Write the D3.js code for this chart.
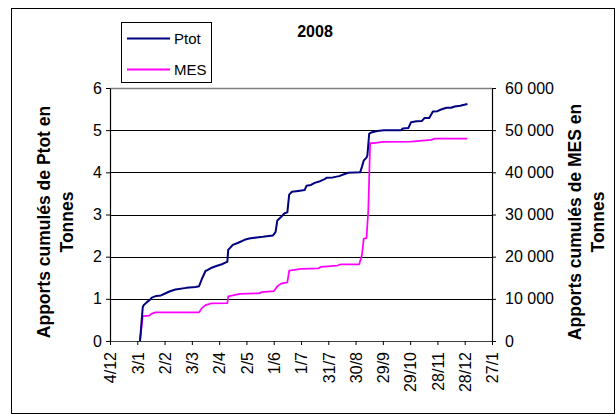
<!DOCTYPE html>
<html><head><meta charset="utf-8">
<script src="https://cdn.jsdelivr.net/npm/d3@7"></script>
<style>
body{margin:0;background:#fff}
svg{display:block}
text{font-family:"Liberation Sans",Arial,sans-serif;fill:#000}
</style>
</head><body>
<svg id="chart" width="616" height="415"></svg>
<script>
// ---------- data ----------
const chartTitle = "2008";
const seriesNames = ["Ptot", "MES"];
const seriesColors = ["#000080", "#FF00FF"];

const ptotDates = ["2008-01-06","2008-01-09","2008-01-10","2008-01-13","2008-01-17","2008-01-19","2008-01-24","2008-01-29",
  "2008-02-02","2008-02-08","2008-02-14","2008-02-26","2008-03-07","2008-03-11","2008-03-14","2008-03-18","2008-03-20",
  "2008-03-24","2008-03-30","2008-04-05","2008-04-10","2008-04-11","2008-04-12","2008-04-17","2008-04-23","2008-04-30",
  "2008-05-05","2008-05-11","2008-05-20","2008-05-31","2008-06-03","2008-06-05","2008-06-09","2008-06-13","2008-06-16",
  "2008-06-18","2008-06-21","2008-06-28","2008-07-05","2008-07-07","2008-07-12","2008-07-16","2008-07-22","2008-07-27",
  "2008-07-29","2008-08-05","2008-08-12","2008-08-18","2008-08-22","2008-09-04","2008-09-06","2008-09-08","2008-09-11",
  "2008-09-12","2008-09-14","2008-09-17","2008-09-23","2008-09-30","2008-10-19","2008-10-21","2008-10-27","2008-10-30",
  "2008-11-05","2008-11-11","2008-11-14","2008-11-19","2008-11-23","2008-11-28","2008-12-02","2008-12-08","2008-12-13",
  "2008-12-17","2008-12-23","2008-12-31"];
const ptotValues = [0,0.80,0.85,0.91,0.98,1.03,1.07,1.08,
  1.12,1.18,1.22,1.26,1.28,1.30,1.47,1.66,1.68,
  1.73,1.78,1.82,1.87,1.88,2.16,2.28,2.33,2.40,
  2.43,2.45,2.47,2.50,2.58,2.86,2.94,3.03,3.05,
  3.47,3.54,3.56,3.58,3.68,3.70,3.75,3.79,3.84,
  3.87,3.88,3.91,3.96,3.99,4.00,4.13,4.28,4.35,
  4.40,4.92,4.95,4.98,5.00,5.00,5.04,5.05,5.19,
  5.21,5.22,5.29,5.29,5.44,5.45,5.49,5.53,5.53,
  5.56,5.58,5.62];

const mesDates = ["2008-01-06","2008-01-09","2008-01-16","2008-01-19","2008-01-23","2008-03-11","2008-03-14","2008-03-18",
  "2008-03-24","2008-04-11","2008-04-12","2008-04-17","2008-04-25","2008-05-16","2008-05-19","2008-06-01","2008-06-05",
  "2008-06-09","2008-06-16","2008-06-18","2008-07-01","2008-07-20","2008-07-23","2008-08-10","2008-08-14","2008-09-03",
  "2008-09-06","2008-09-08","2008-09-11","2008-09-13","2008-09-15","2008-09-19","2008-09-29","2008-10-30","2008-11-21",
  "2008-11-25","2008-12-31"];
const mesValues = [0,5900,6000,6500,6800,6800,7800,8500,
  8900,9000,10600,10800,11200,11300,11600,11800,13000,
  13600,13900,16700,17100,17200,17600,17900,18200,18200,
  20400,24300,24400,31000,46900,46900,47200,47300,47700,
  48000,48000];

const xTickDates = ["2007-12-04","2008-01-03","2008-02-02","2008-03-03","2008-04-02","2008-05-02","2008-06-01",
  "2008-07-01","2008-07-31","2008-08-30","2008-09-29","2008-10-29","2008-11-28","2008-12-28","2009-01-27"];
const leftTicks = [0, 1, 2, 3, 4, 5, 6];
const rightTicks = [0, 10000, 20000, 30000, 40000, 50000, 60000];
const leftTitle = ["Apports cumulés de Ptot en", "Tonnes"];
const rightTitle = ["Apports cumulés de MES en", "Tonnes"];

// ---------- drawing ----------
const svg = d3.select("#chart");
const parse = d3.utcParse("%Y-%m-%d");
const plot = {left: 110, right: 492, top: 88, bottom: 341};

const x = d3.scaleUtc()
  .domain([parse(xTickDates[0]), parse(xTickDates[xTickDates.length - 1])])
  .range([plot.left, plot.right]);
const yL = d3.scaleLinear().domain([0, 6]).range([plot.bottom, plot.top]);
const yR = d3.scaleLinear().domain([0, 60000]).range([plot.bottom, plot.top]);

// outer border
svg.append("rect").attr("x", 11.5).attr("y", 8.5).attr("width", 603).attr("height", 405)
  .attr("fill", "#fff").attr("stroke", "#000").attr("stroke-width", 1);

// gridlines
svg.append("g").selectAll("line").data(leftTicks.filter(d => d > 0 && d < 6)).join("line")
  .attr("x1", plot.left).attr("x2", plot.right)
  .attr("y1", d => Math.round(yL(d)) + 0.5).attr("y2", d => Math.round(yL(d)) + 0.5)
  .attr("stroke", "#000").attr("stroke-width", 1);
// plot area top border
svg.append("line").attr("x1", plot.left).attr("x2", plot.right)
  .attr("y1", plot.top + 0.5).attr("y2", plot.top + 0.5)
  .attr("stroke", "#808080").attr("stroke-width", 1.5);

const fmtDate = d3.utcFormat("%-d/%-m");
const frLocale = d3.formatLocale({decimal: ",", thousands: " ", grouping: [3], currency: ["", " €"]});
const fmtR = frLocale.format(",");

function styleAxis(g) {
  g.select(".domain").attr("stroke", "#000").attr("stroke-width", 1.2);
  g.selectAll(".tick line").attr("stroke", "#000").attr("stroke-width", 1);
  g.selectAll(".tick text").style("font-size", "16px").attr("fill", "#000");
}

// bottom axis
const gx = svg.append("g").attr("transform", `translate(0,${plot.bottom})`)
  .call(d3.axisBottom(x).tickValues(xTickDates.map(parse)).tickFormat(fmtDate).tickSize(4).tickSizeOuter(0));
styleAxis(gx);
gx.select(".domain").attr("stroke", "#404040");
gx.selectAll(".tick text").attr("transform", "rotate(-90)").attr("text-anchor", "end")
  .attr("x", -11).attr("y", 0).attr("dy", "0.36em");

// left axis
const gl = svg.append("g").attr("transform", `translate(${plot.left},0)`)
  .call(d3.axisLeft(yL).tickValues(leftTicks).tickFormat(d3.format("d")).tickSize(4).tickPadding(4).tickSizeOuter(0));
styleAxis(gl);

// right axis
const gr = svg.append("g").attr("transform", `translate(${plot.right},0)`)
  .call(d3.axisRight(yR).tickValues(rightTicks).tickFormat(fmtR).tickSize(4).tickPadding(9).tickSizeOuter(0));
styleAxis(gr);

// lines
const ptot = ptotDates.map((d, i) => ({date: parse(d), v: ptotValues[i]}));
const mes = mesDates.map((d, i) => ({date: parse(d), v: mesValues[i]}));
svg.append("path").datum(mes)
  .attr("d", d3.line().x(d => x(d.date)).y(d => yR(d.v)))
  .attr("fill", "none").attr("stroke", seriesColors[1]).attr("stroke-width", 1.75).attr("stroke-linejoin", "round");
svg.append("path").datum(ptot)
  .attr("d", d3.line().x(d => x(d.date)).y(d => yL(d.v)))
  .attr("fill", "none").attr("stroke", seriesColors[0]).attr("stroke-width", 2).attr("stroke-linejoin", "round");

// title
svg.append("text").attr("x", 315).attr("y", 37).attr("text-anchor", "middle")
  .style("font-size", "16px").style("font-weight", "bold").text(chartTitle);

// axis titles
function axisTitle(lines, xs, cy) {
  lines.forEach((t, i) => {
    svg.append("text").attr("transform", `translate(${xs[i]},${cy}) rotate(-90)`)
      .attr("text-anchor", "middle").style("font-size", "17.5px").style("font-weight", "bold").text(t);
  });
}
axisTitle(leftTitle, [50, 73], 222);
axisTitle(rightTitle, [581, 604], 222);

// legend
const lg = svg.append("g");
lg.append("rect").attr("x", 121.5).attr("y", 22.5).attr("width", 90).attr("height", 60)
  .attr("fill", "#fff").attr("stroke", "#000").attr("stroke-width", 1);
seriesNames.forEach((n, i) => {
  const yy = 38.5 + i * 31;
  lg.append("line").attr("x1", 127).attr("x2", 170).attr("y1", yy).attr("y2", yy)
    .attr("stroke", seriesColors[i]).attr("stroke-width", 2);
  lg.append("text").attr("x", 174).attr("y", yy + 5.5).style("font-size", "15px").text(n);
});
</script>
</body></html>
